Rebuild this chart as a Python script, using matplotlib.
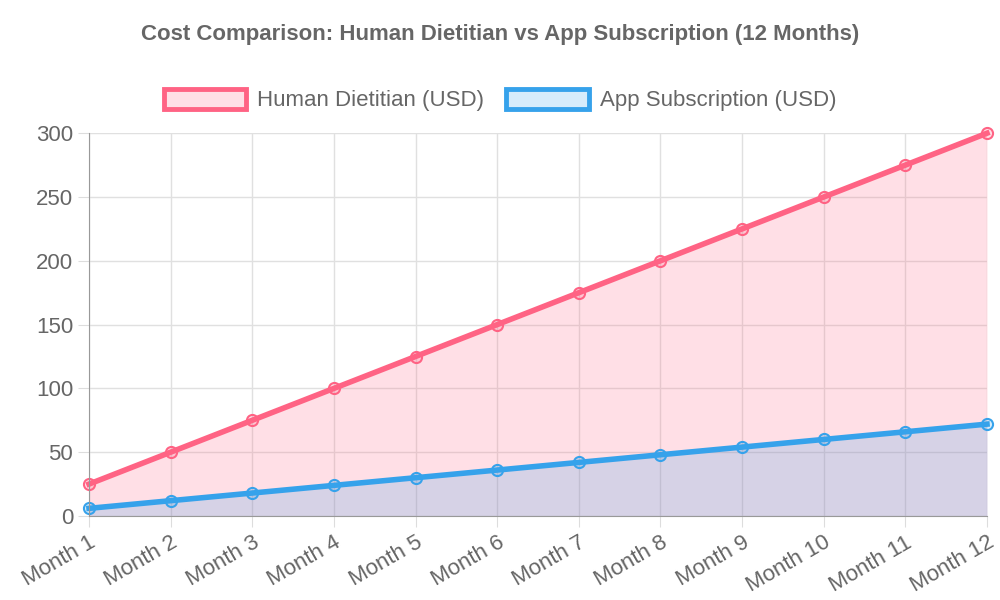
import matplotlib
matplotlib.use("Agg")
import matplotlib.pyplot as plt
from matplotlib.patches import Patch

plt.rcParams["font.family"] = "Liberation Sans"

# données
mois = ["Month 1", "Month 2", "Month 3", "Month 4", "Month 5", "Month 6",
        "Month 7", "Month 8", "Month 9", "Month 10", "Month 11", "Month 12"]
dieteticien = [25, 50, 75, 100, 125, 150, 175, 200, 225, 250, 275, 300]
application = [6, 12, 18, 24, 30, 36, 42, 48, 54, 60, 66, 72]

rose = (255/255, 99/255, 132/255)
bleu = (54/255, 162/255, 235/255)
gris = "#666666"

fig = plt.figure(figsize=(10, 6), dpi=100)
ax = fig.add_axes([0.089, 0.14, 0.898, 0.638])
x = range(len(mois))

ax.fill_between(x, dieteticien, 0, color=rose, alpha=0.2, linewidth=0)
ax.fill_between(x, application, 0, color=bleu, alpha=0.2, linewidth=0)
ax.plot(x, dieteticien, color=rose, linewidth=4, marker="o", markersize=8, clip_on=False,
        markerfacecolor=(1, 0.39, 0.52, 0.2), markeredgecolor=rose, markeredgewidth=1.5)
ax.plot(x, application, color=bleu, linewidth=4, marker="o", markersize=8, clip_on=False,
        markerfacecolor=(0.21, 0.64, 0.92, 0.2), markeredgecolor=bleu, markeredgewidth=1.5)

ax.set_xlim(0, len(mois) - 1)
ax.set_ylim(0, 300)
ax.set_yticks(range(0, 301, 50))
ax.set_xticks(list(x))
ax.set_xticklabels(mois, rotation=30, ha="right", rotation_mode="anchor")
ax.tick_params(colors=gris, labelsize=16, length=8, color="#dddddd")
ax.grid(True, color="#e0e0e0", linewidth=1)
for s in ["top", "right"]:
    ax.spines[s].set_visible(False)
for s in ["left", "bottom"]:
    ax.spines[s].set_color("#999999")
ax.set_axisbelow(True)

handles = [Patch(facecolor=(1, 0.39, 0.52, 0.2), edgecolor=rose, linewidth=3.5),
           Patch(facecolor=(0.21, 0.64, 0.92, 0.2), edgecolor=bleu, linewidth=3.5)]
fig.legend(handles, ["Human Dietitian (USD)", "App Subscription (USD)"],
           loc="center", bbox_to_anchor=(0.5, 0.833), ncol=2, frameon=False,
           fontsize=16, labelcolor=gris, handlelength=3.7, handleheight=1.0,
           columnspacing=1.0, handletextpad=0.5)
fig.text(0.5, 0.943, "Cost Comparison: Human Dietitian vs App Subscription (12 Months)",
         ha="center", va="center", fontsize=16, fontweight="bold", color=gris)

fig.savefig("out.png")
